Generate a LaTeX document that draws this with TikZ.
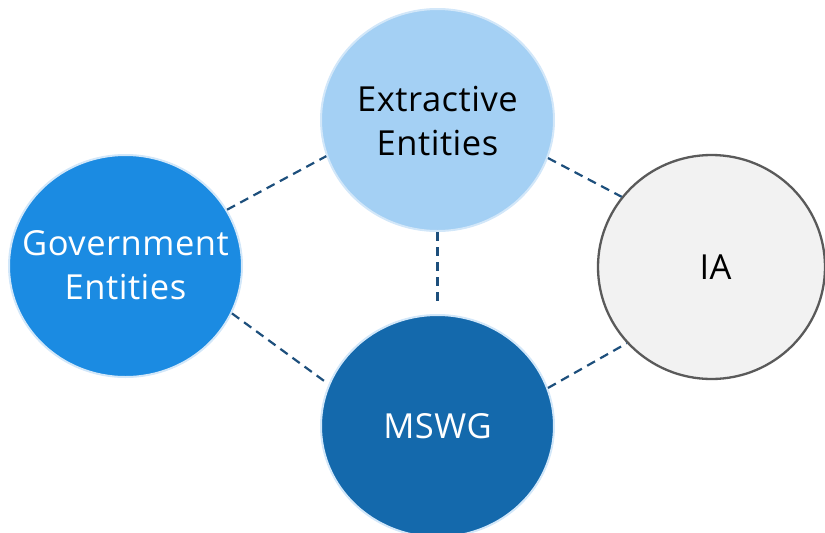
\documentclass[tikz,border=0pt]{standalone}
\usepackage{fontspec}
\setmainfont[LetterSpace=1.5]{Open Sans}
\usetikzlibrary{shapes.geometric}
\definecolor{extfill}{HTML}{A4D0F4}
\definecolor{govfill}{HTML}{1B8BE2}
\definecolor{mswgfill}{HTML}{1469AC}
\definecolor{iafill}{HTML}{F2F2F2}
\definecolor{iaedge}{HTML}{5A5A5A}
\definecolor{softedge}{HTML}{D2E7F9}
\definecolor{linkcol}{HTML}{1D4F7C}
\begin{document}
\begin{tikzpicture}[x=1pt,y=-1pt,
  party/.style={ellipse, draw=softedge, line width=2pt, inner sep=0pt,
    minimum width=233pt, minimum height=222pt},
  label/.style={font=\fontsize{34.5}{43.5}\selectfont, align=center, inner sep=0pt},
  link/.style={draw=linkcol, line width=2.2pt, dash pattern=on 9pt off 6pt}]
  \useasboundingbox (0,0) rectangle (825,533);

  % the four parties
  \node[party, fill=extfill] (ext) at (437.5,120) {};
  \node[party, fill=govfill] (gov) at (125.5,266) {};
  \node[party, fill=mswgfill] (mswg) at (437.5,426) {};
  \node[party, fill=iafill, draw=iaedge, line width=2.3pt, minimum width=227pt, minimum height=224pt] (ia) at (711.5,267) {};

  % their names
  \node[label, text=black] at ([yshift=-1pt]ext.center) {Extractive\\Entities};
  \node[label, text=white] at ([yshift=1pt]gov.center) {Government\\Entities};
  \node[label, text=white] at (mswg) {MSWG};
  \node[label, text=black] at ([xshift=4pt]ia.center) {IA};

  % dashed relations between the parties
  \draw[link] (gov.29) -- (ext.198);
  \draw[link] (gov.-24) -- (mswg.159);
  \draw[link] (ext.-19) -- (ia.142);
  \draw[link] (mswg.19) -- (ia.222);
  \draw[link, shorten >=8pt] (ext.south) -- (mswg.north);
\end{tikzpicture}
\end{document}
